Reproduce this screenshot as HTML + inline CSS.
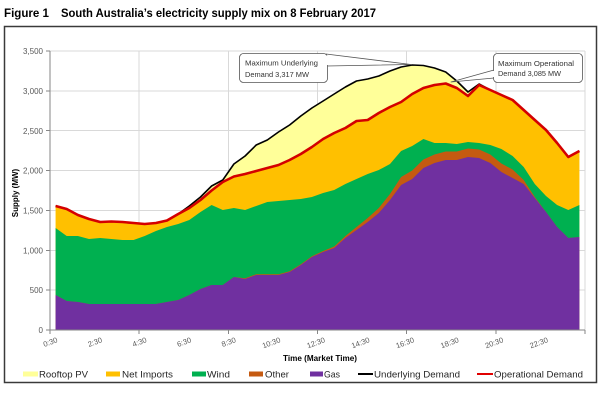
<!DOCTYPE html>
<html><head><meta charset="utf-8"><style>
html,body{margin:0;padding:0;background:#fff;}
svg{display:block;}
text{font-family:"Liberation Sans",Arial,sans-serif;}
</style></head><body>
<svg width="600" height="408" viewBox="0 0 600 408" xmlns="http://www.w3.org/2000/svg">
<rect x="0" y="0" width="600" height="408" fill="#fff"/>
<text x="4" y="17" font-size="12" font-weight="bold" fill="#000" textLength="45" lengthAdjust="spacingAndGlyphs">Figure 1</text>
<text x="61" y="17" font-size="12" font-weight="bold" fill="#000" textLength="315" lengthAdjust="spacingAndGlyphs">South Australia’s electricity supply mix on 8 February 2017</text>
<rect x="4.5" y="26.5" width="592" height="356" fill="#fff" stroke="#3a3a3a" stroke-width="1.5"/>

<!-- gridlines -->
<g stroke="#d9d9d9" stroke-width="1" shape-rendering="crispEdges">
<line x1="50" y1="51" x2="585" y2="51"/>
<line x1="50" y1="90.9" x2="585" y2="90.9"/>
<line x1="50" y1="130.7" x2="585" y2="130.7"/>
<line x1="50" y1="170.6" x2="585" y2="170.6"/>
<line x1="50" y1="210.4" x2="585" y2="210.4"/>
<line x1="50" y1="250.3" x2="585" y2="250.3"/>
<line x1="50" y1="290.1" x2="585" y2="290.1"/>
<line x1="139.2" y1="51" x2="139.2" y2="330"/>
<line x1="228.3" y1="51" x2="228.3" y2="330"/>
<line x1="317.5" y1="51" x2="317.5" y2="330"/>
<line x1="406.7" y1="51" x2="406.7" y2="330"/>
<line x1="495.8" y1="51" x2="495.8" y2="330"/>
<line x1="585" y1="51" x2="585" y2="330"/>
</g>

<!-- Rooftop PV (to underlying demand) -->
<path fill="#ffff99" d="M55.6,330 L55.6,206 66.7,209 77.9,215 89.0,219 100.2,222 111.3,221.5 122.5,222 133.6,223 144.7,224 155.9,223 167.0,220.5 178.2,214 189.3,206 200.5,197 211.6,186 222.8,180 233.9,164 245.1,156 256.2,145 267.3,140 278.5,132 289.6,125 300.8,116 311.9,108 323.1,101 334.2,94 345.4,87 356.5,81 367.7,79 378.8,76 390.0,71 401.1,67 412.2,65 423.4,65.5 434.5,68 445.7,72 456.8,81 468.0,92 479.1,84 490.3,90 501.4,95 512.6,100 523.7,110 534.8,120 546.0,130 557.1,143 568.3,157 579.4,151 L579.4,330 Z"/>
<!-- Net imports (to operational demand) -->
<path fill="#ffc000" d="M55.6,330 L55.6,206 66.7,209 77.9,215 89.0,219 100.2,222 111.3,221.5 122.5,222 133.6,223 144.7,224 155.9,223 167.0,220.5 178.2,214 189.3,208 200.5,200 211.6,190.5 222.8,182 233.9,176.5 245.1,174 256.2,171 267.3,168 278.5,165 289.6,160 300.8,154 311.9,147 323.1,139 334.2,133 345.4,128 356.5,121 367.7,120 378.8,113 390.0,107 401.1,102 412.2,94 423.4,88 434.5,85 445.7,83.5 456.8,88 468.0,96 479.1,85 490.3,90 501.4,95 512.6,100 523.7,110 534.8,120 546.0,130 557.1,143 568.3,157 579.4,151 L579.4,330 Z"/>
<!-- Wind -->
<path fill="#00b050" d="M55.6,330 L55.6,228 66.7,236 77.9,236 89.0,239 100.2,238 111.3,239 122.5,240 133.6,240 144.7,236 155.9,231 167.0,227 178.2,224 189.3,220 200.5,212 211.6,205 222.8,210 233.9,208 245.1,210 256.2,206 267.3,202 278.5,201 289.6,200 300.8,199 311.9,197 323.1,193 334.2,190 345.4,184 356.5,179 367.7,174 378.8,170 390.0,164 401.1,151 412.2,146 423.4,139 434.5,143 445.7,143 456.8,144 468.0,142 479.1,143 490.3,145 501.4,149 512.6,156 523.7,167 534.8,184 546.0,196 557.1,205 568.3,210 579.4,205 L579.4,330 Z"/>
<!-- Other -->
<path fill="#c55a11" d="M55.6,330 L55.6,295 66.7,301 77.9,302 89.0,304 100.2,304 111.3,304 122.5,304 133.6,304 144.7,304 155.9,304 167.0,302 178.2,300 189.3,295 200.5,289 211.6,285 222.8,285 233.9,277 245.1,278.2 256.2,274.2 267.3,274.2 278.5,274.2 289.6,271.2 300.8,264.2 311.9,256.2 323.1,251 334.2,246.5 345.4,236 356.5,227 367.7,218 378.8,208 390.0,194 401.1,177 412.2,170.5 423.4,159.5 434.5,154.5 445.7,151.5 456.8,151.5 468.0,148.5 479.1,149.5 490.3,154.5 501.4,163.5 512.6,169.5 523.7,180 534.8,197 546.0,212 557.1,227 568.3,238 579.4,237 L579.4,330 Z"/>
<!-- Gas -->
<path fill="#7030a0" d="M55.6,330 L55.6,295 66.7,301 77.9,302 89.0,304 100.2,304 111.3,304 122.5,304 133.6,304 144.7,304 155.9,304 167.0,302 178.2,300 189.3,295 200.5,289 211.6,285 222.8,285 233.9,277 245.1,279 256.2,275 267.3,275 278.5,275 289.6,272 300.8,265 311.9,257 323.1,252 334.2,248 345.4,238 356.5,230 367.7,222 378.8,213 390.0,200 401.1,185 412.2,179 423.4,168 434.5,163 445.7,160 456.8,160 468.0,157 479.1,158 490.3,163 501.4,172 512.6,178 523.7,184 534.8,198 546.0,212 557.1,227 568.3,238 579.4,237 L579.4,330 Z"/>

<!-- Underlying demand -->
<polyline fill="none" stroke="#000" stroke-width="1.6" stroke-linejoin="round" points="55.6,206 66.7,209 77.9,215 89.0,219 100.2,222 111.3,221.5 122.5,222 133.6,223 144.7,224 155.9,223 167.0,220.5 178.2,214 189.3,206 200.5,197 211.6,186 222.8,180 233.9,164 245.1,156 256.2,145 267.3,140 278.5,132 289.6,125 300.8,116 311.9,108 323.1,101 334.2,94 345.4,87 356.5,81 367.7,79 378.8,76 390.0,71 401.1,67 412.2,65 423.4,65.5 434.5,68 445.7,72 456.8,81 468.0,92 479.1,84 490.3,90 501.4,95 512.6,100 523.7,110 534.8,120 546.0,130 557.1,143 568.3,157 579.4,151"/>
<!-- Operational demand -->
<polyline fill="none" stroke="#d40000" stroke-width="2.6" stroke-linejoin="round" points="55.6,206 66.7,209 77.9,215 89.0,219 100.2,222 111.3,221.5 122.5,222 133.6,223 144.7,224 155.9,223 167.0,220.5 178.2,214 189.3,208 200.5,200 211.6,190.5 222.8,182 233.9,176.5 245.1,174 256.2,171 267.3,168 278.5,165 289.6,160 300.8,154 311.9,147 323.1,139 334.2,133 345.4,128 356.5,121 367.7,120 378.8,113 390.0,107 401.1,102 412.2,94 423.4,88 434.5,85 445.7,83.5 456.8,88 468.0,96 479.1,85 490.3,90 501.4,95 512.6,100 523.7,110 534.8,120 546.0,130 557.1,143 568.3,157 579.4,151"/>

<!-- axes -->
<g stroke="#868686" stroke-width="1" shape-rendering="crispEdges">
<line x1="50" y1="51" x2="50" y2="330"/>
<line x1="50" y1="330" x2="585" y2="330"/>
<line x1="46" y1="51" x2="50" y2="51"/>
<line x1="46" y1="90.9" x2="50" y2="90.9"/>
<line x1="46" y1="130.7" x2="50" y2="130.7"/>
<line x1="46" y1="170.6" x2="50" y2="170.6"/>
<line x1="46" y1="210.4" x2="50" y2="210.4"/>
<line x1="46" y1="250.3" x2="50" y2="250.3"/>
<line x1="46" y1="290.1" x2="50" y2="290.1"/>
<line x1="46" y1="330" x2="50" y2="330"/>
<line x1="50" y1="330" x2="50" y2="334"/>
<line x1="139.2" y1="330" x2="139.2" y2="334"/>
<line x1="228.3" y1="330" x2="228.3" y2="334"/>
<line x1="317.5" y1="330" x2="317.5" y2="334"/>
<line x1="406.7" y1="330" x2="406.7" y2="334"/>
<line x1="495.8" y1="330" x2="495.8" y2="334"/>
<line x1="585" y1="330" x2="585" y2="334"/>
</g>

<!-- y tick labels -->
<g font-size="8" fill="#595959" text-anchor="end">
<text x="43" y="54">3,500</text>
<text x="43" y="94">3,000</text>
<text x="43" y="134">2,500</text>
<text x="43" y="173.5">2,000</text>
<text x="43" y="213.5">1,500</text>
<text x="43" y="253.5">1,000</text>
<text x="43" y="293">500</text>
<text x="43" y="333">0</text>
</g>
<text transform="translate(18,193) rotate(-90)" font-size="8" font-weight="bold" fill="#000" text-anchor="middle">Supply (MW)</text>

<!-- x tick labels -->
<g font-size="7.5" fill="#595959" text-anchor="end">
<text transform="translate(58.1,342) rotate(-20)">0:30</text>
<text transform="translate(102.7,342) rotate(-20)">2:30</text>
<text transform="translate(147.2,342) rotate(-20)">4:30</text>
<text transform="translate(191.8,342) rotate(-20)">6:30</text>
<text transform="translate(236.4,342) rotate(-20)">8:30</text>
<text transform="translate(281,342) rotate(-20)">10:30</text>
<text transform="translate(325.6,342) rotate(-20)">12:30</text>
<text transform="translate(370.2,342) rotate(-20)">14:30</text>
<text transform="translate(414.7,342) rotate(-20)">16:30</text>
<text transform="translate(459.3,342) rotate(-20)">18:30</text>
<text transform="translate(503.9,342) rotate(-20)">20:30</text>
<text transform="translate(548.5,342) rotate(-20)">22:30</text>
</g>
<text x="283" y="361" font-size="8" font-weight="bold" fill="#000" textLength="74" lengthAdjust="spacingAndGlyphs">Time (Market Time)</text>

<!-- callout 1 -->
<path d="M326,54 L411,64.5 L327,66 Z" fill="#fff" stroke="#555" stroke-width="0.8" stroke-linejoin="round"/>
<rect x="239.5" y="53.5" width="88" height="29" rx="4" ry="4" fill="#fff" stroke="#555" stroke-width="0.8"/>
<rect x="324" y="55.5" width="4" height="9.5" fill="#fff"/>
<g font-size="7.5" fill="#333">
<text x="245" y="65.5" textLength="73" lengthAdjust="spacingAndGlyphs">Maximum Underlying</text>
<text x="245" y="77" textLength="64" lengthAdjust="spacingAndGlyphs">Demand 3,317 MW</text>
</g>
<!-- callout 2 -->
<path d="M494,70 L451,82 L494,78 Z" fill="#fff" stroke="#555" stroke-width="0.8" stroke-linejoin="round"/>
<rect x="493.5" y="53.5" width="89" height="29" rx="4" ry="4" fill="#fff" stroke="#555" stroke-width="0.8"/>
<rect x="493" y="71" width="3" height="6" fill="#fff"/>
<g font-size="7.5" fill="#333">
<text x="498" y="66" textLength="76" lengthAdjust="spacingAndGlyphs">Maximum Operational</text>
<text x="498" y="76" textLength="63" lengthAdjust="spacingAndGlyphs">Demand 3,085 MW</text>
</g>

<!-- legend -->
<rect x="23" y="371.5" width="15" height="5" fill="#ffff99"/>
<rect x="106" y="371.5" width="14" height="5" fill="#ffc000"/>
<rect x="192" y="371.5" width="14" height="5" fill="#00b050"/>
<rect x="249" y="371.5" width="14" height="5" fill="#c55a11"/>
<rect x="310" y="371.5" width="13" height="5" fill="#7030a0"/>
<line x1="358" y1="374" x2="373" y2="374" stroke="#000" stroke-width="2"/>
<line x1="477" y1="374" x2="493" y2="374" stroke="#e00000" stroke-width="2"/>
<g font-size="9.5" fill="#262626">
<text x="39" y="377.5" textLength="49" lengthAdjust="spacingAndGlyphs">Rooftop PV</text>
<text x="122" y="377.5" textLength="51" lengthAdjust="spacingAndGlyphs">Net Imports</text>
<text x="207" y="377.5" textLength="23" lengthAdjust="spacingAndGlyphs">Wind</text>
<text x="265" y="377.5" textLength="24" lengthAdjust="spacingAndGlyphs">Other</text>
<text x="324" y="377.5" textLength="16" lengthAdjust="spacingAndGlyphs">Gas</text>
<text x="374" y="377.5" textLength="86" lengthAdjust="spacingAndGlyphs">Underlying Demand</text>
<text x="494" y="377.5" textLength="89" lengthAdjust="spacingAndGlyphs">Operational Demand</text>
</g>
</svg>
</body></html>
